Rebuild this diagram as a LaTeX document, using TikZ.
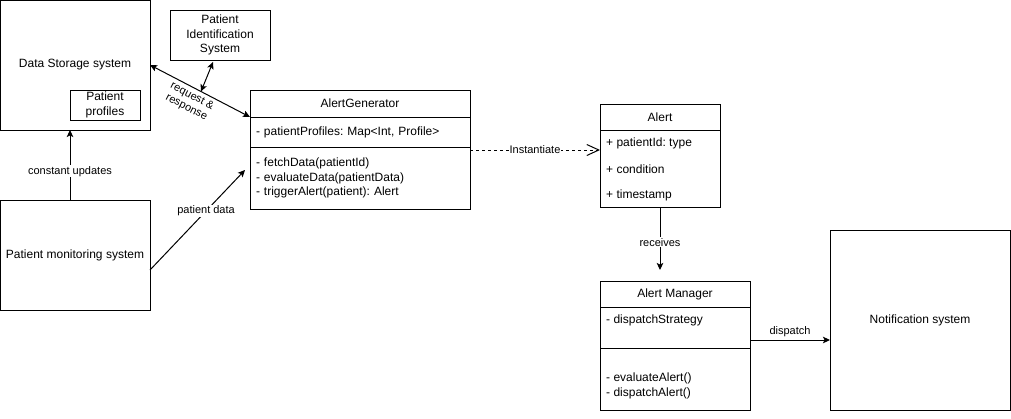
\documentclass[tikz,border=0pt]{standalone}
\usepackage{fontspec}
\setmainfont{Liberation Sans}
\frenchspacing
\usetikzlibrary{arrows.meta,positioning,calc}

\begin{document}
\begin{tikzpicture}[
  x=1pt, y=-1pt,
  every node/.style={font=\fontsize{12}{14.4}\selectfont},
  box/.style={draw, line width=1pt, outer sep=0pt, inner sep=0pt, align=center},
  member/.style={anchor=west, align=left, inner sep=0pt},
  lbl/.style={fill=white, inner sep=1pt, font=\fontsize{11}{13}\selectfont},
  arr/.style={line width=1pt, -{Stealth[length=7pt,width=6.5pt,inset=1.5pt]}},
  biarr/.style={line width=1pt, {Stealth[length=7pt,width=6.5pt,inset=1.5pt]}-{Stealth[length=7pt,width=6.5pt,inset=1.5pt]}},
  dep/.style={line width=1pt, dash pattern=on 3pt off 3pt, -{Straight Barb[length=12pt,width=11pt]}},
  node distance=0pt
]
\useasboundingbox (0,0) rectangle (1011,418);

% systems
\node[box, minimum width=150pt, minimum height=130pt] (ds) at (75,65) {Data Storage system};
\node[box, minimum width=70pt, minimum height=30pt] (pp) at (105,105) {Patient\\profiles};
\node[box, minimum width=100pt, minimum height=50pt] (pis) at (220,35) {Patient\\Identification\\System};
\node[box, minimum width=150pt, minimum height=110pt] (pms) at (75,255) {Patient monitoring system};
\node[box, minimum width=180pt, minimum height=180pt] (ns) at (920,320) {Notification system};

% AlertGenerator class
\node[box, minimum width=220pt, minimum height=27pt] (agh) at (360,103.5) {AlertGenerator};
\node[box, minimum width=220pt, minimum height=30pt, text width=208pt, align=left, below=of agh] (aga) {- patientProfiles: Map<Int, Profile>};
\node[box, minimum width=220pt, minimum height=62pt, text width=208pt, align=left, below=of aga] (agm) {- fetchData(patientId)\\- evaluateData(patientData)\\- triggerAlert(patient): Alert};

% Alert class
\node[box, minimum width=120pt, minimum height=26pt] (alh) at (660,117) {Alert};
\node[box, minimum width=120pt, minimum height=77pt, below=of alh] (alb) {};
\foreach \t [count=\i] in {+ patientId: type, + condition, + timestamp}
  \node[member] (al\i) at (606,{117+26*\i}) {\t};

% Alert Manager class
\node[box, minimum width=150pt, minimum height=26pt] (amh) at (675,294) {Alert Manager};
\node[box, minimum width=150pt, minimum height=41pt, below=of amh] (ama) {};
\node[box, minimum width=150pt, minimum height=62pt, below=of ama] (amm) {};
\node[member] (amattr) at (606,320) {- dispatchStrategy};
\node[member] (ammeth) at (606,386) {- evaluateAlert()\\- dispatchAlert()};

% connectors
\draw[arr] ($(pms.north)+(-5,0)$) -- node[lbl, pos=0.41] {constant updates} ($(ds.south)+(-5,0)$);
\draw[arr] ($(pms.east)+(0,15)$) -- node[lbl, pos=0.59] {patient data} ($(agm.west)+(-5,-8)$);
\draw[biarr] (ds.east) -- node[sloped, below, pos=0.46, align=center, inner sep=3pt, font=\fontsize{11}{12.5}\selectfont] {request \&\\response} coordinate[pos=0.51] (rr) (agh.south west);
\draw[biarr] ($(pis.south)+(-7,2)$) -- (rr);

\coordinate (inst) at ($(aga.south east)+(0,3)$);
\draw[dep] (inst) -- node[lbl] {Instantiate} (inst -| alb.west);

\coordinate (rcv) at ($(amh.north -| alb.south)+(0,-11)$);
\draw[arr] (alb.south) -- node[lbl, pos=0.56] {receives} (rcv);

\coordinate (dsp) at ($(ama.south east)+(0,-8)$);
\draw[arr] (dsp) -- node[above, inner sep=3pt, font=\fontsize{11}{13}\selectfont] {dispatch} (dsp -| ns.west);
\end{tikzpicture}
\end{document}
